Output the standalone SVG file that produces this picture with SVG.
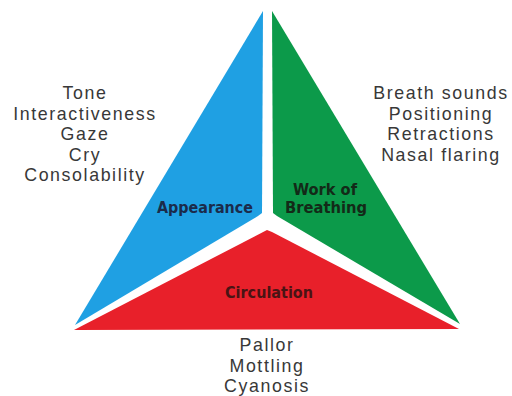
<svg xmlns="http://www.w3.org/2000/svg" width="512" height="396" viewBox="0 0 512 396">
<style>
.list{font-family:"Liberation Sans",Arial,sans-serif;font-size:17.8px;letter-spacing:1.6px;fill:#383838;text-anchor:middle}
.lbl{font-family:"DejaVu Sans Condensed","DejaVu Sans",sans-serif;font-stretch:condensed;font-weight:bold;font-size:15.4px;text-anchor:middle}
</style>
<rect width="512" height="396" fill="#ffffff"/>
<g id="appearance">
<polygon points="263,11 262,213 258,216 75,325" fill="#1fa0e3"/>
<text class="lbl" x="205" y="212.5" fill="#1b2b4b" textLength="96" lengthAdjust="spacingAndGlyphs">Appearance</text>
</g>
<g id="work-of-breathing">
<polygon points="272,11 460,324 277,216 273,213" fill="#0c9a4a"/>
<text class="lbl" fill="#132a18"><tspan x="325" y="194.5" textLength="64" lengthAdjust="spacingAndGlyphs">Work of</tspan><tspan x="326" y="212.5" textLength="82" lengthAdjust="spacingAndGlyphs">Breathing</tspan></text>
</g>
<g id="circulation">
<polygon points="267,230 272,232 459,329 74,330" fill="#e8202a"/>
<text class="lbl" x="269" y="297.5" fill="#4a1414" textLength="88" lengthAdjust="spacingAndGlyphs">Circulation</text>
</g>
<g id="appearance-signs">
<text class="list"><tspan x="85" y="99">Tone</tspan><tspan x="85" y="119.6">Interactiveness</tspan><tspan x="85" y="140.2">Gaze</tspan><tspan x="85" y="160.8">Cry</tspan><tspan x="85" y="181.4">Consolability</tspan></text>
</g>
<g id="breathing-signs">
<text class="list"><tspan x="441" y="99">Breath sounds</tspan><tspan x="441" y="119.6">Positioning</tspan><tspan x="441" y="140.2">Retractions</tspan><tspan x="441" y="160.8">Nasal flaring</tspan></text>
</g>
<g id="circulation-signs">
<text class="list"><tspan x="267" y="351">Pallor</tspan><tspan x="267" y="371.6">Mottling</tspan><tspan x="267" y="392.2">Cyanosis</tspan></text>
</g>
<g id="connectors"/>
</svg>
